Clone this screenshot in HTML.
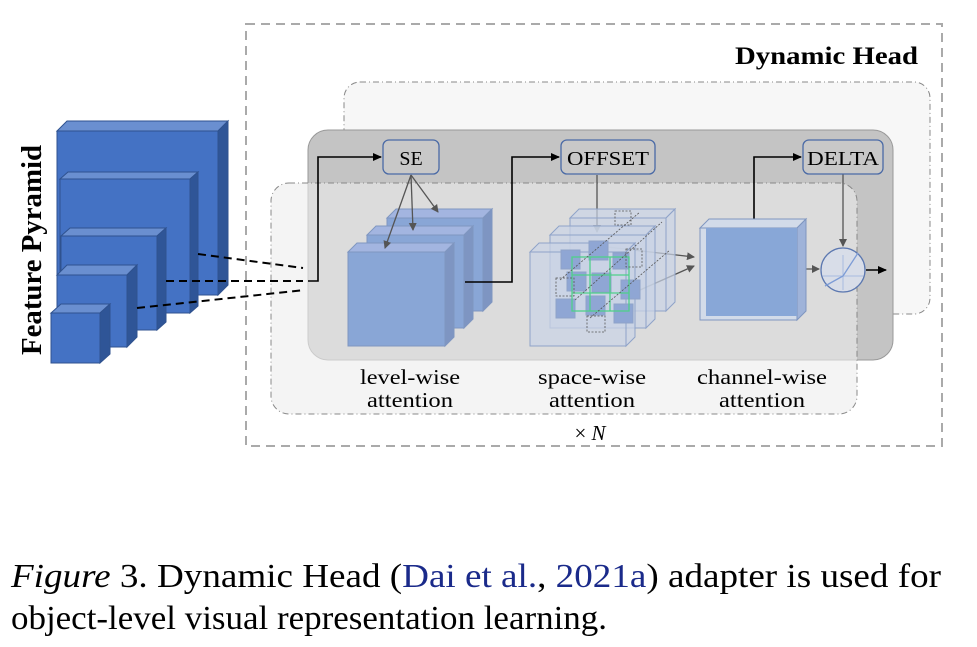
<!DOCTYPE html>
<html><head><meta charset="utf-8"><style>
html,body{margin:0;padding:0;background:#fff;}
svg{display:block;}
text{font-family:"Liberation Serif",serif;}
</style></head><body>
<svg width="977" height="647" viewBox="0 0 977 647" xmlns="http://www.w3.org/2000/svg">
<defs>
<marker id="ah" markerWidth="8" markerHeight="8" refX="7" refY="4" orient="auto" markerUnits="userSpaceOnUse"><path d="M0,0 L8,4 L0,8 z" fill="#555"/></marker>
<marker id="ahb" markerWidth="9" markerHeight="8" refX="8" refY="4" orient="auto" markerUnits="userSpaceOnUse"><path d="M0,0 L9,4 L0,8 z" fill="#000"/></marker>
</defs>
<rect x="246" y="24" width="696" height="422" fill="none" stroke="#aaa" stroke-width="2" stroke-dasharray="9,6"/>
<text x="918" y="64" text-anchor="end" font-size="25" font-weight="bold" textLength="183" lengthAdjust="spacingAndGlyphs">Dynamic Head</text>
<rect x="344" y="82" width="586" height="232" rx="16" fill="#f7f7f7" stroke="#888" stroke-width="1" stroke-dasharray="6,3,1,3"/>
<rect x="308" y="130" width="585" height="230" rx="20" fill="#c4c4c4" stroke="#999" stroke-width="1"/>
<rect x="271" y="183" width="586" height="231" rx="18" fill="#ececec" fill-opacity="0.6" stroke="#888" stroke-width="1" stroke-dasharray="6,3,1,3"/>

<g stroke="#2f528f" stroke-width="1">
<g><polygon points="57,131 67,121 228,121 218,131" fill="#6a8fd0"/><polygon points="218,131 228,121 228,285 218,295" fill="#2f5597"/><rect x="57" y="131" width="161" height="164" fill="#4472c4"/></g>
<g><polygon points="60,179 68,172 198,172 190,179" fill="#6a8fd0"/><polygon points="190,179 198,172 198,306 190,313" fill="#2f5597"/><rect x="60" y="179" width="130" height="134" fill="#4472c4"/></g>
<g><polygon points="61,236 70,228 166,228 157,236" fill="#6a8fd0"/><polygon points="157,236 166,228 166,322 157,330" fill="#2f5597"/><rect x="61" y="236" width="96" height="94" fill="#4472c4"/></g>
<g><polygon points="57,275 67,265 137,265 127,275" fill="#6a8fd0"/><polygon points="127,275 137,265 137,337 127,347" fill="#2f5597"/><rect x="57" y="275" width="70" height="72" fill="#4472c4"/></g>
<g><polygon points="51,313 61,304 110,304 100,313" fill="#6a8fd0"/><polygon points="100,313 110,304 110,354 100,363" fill="#2f5597"/><rect x="51" y="313" width="49" height="50" fill="#4472c4"/></g>
</g>
<text transform="translate(41,250) rotate(-90)" text-anchor="middle" font-size="29" font-weight="bold" textLength="210" lengthAdjust="spacingAndGlyphs">Feature Pyramid</text>
<g stroke="#000" stroke-width="2" stroke-dasharray="8,5" fill="none">
<line x1="198" y1="254" x2="303" y2="268"/>
<line x1="166" y1="281" x2="303" y2="281"/>
<line x1="137" y1="308" x2="305" y2="290"/>
</g>

<g stroke="#7f96c0" stroke-width="1">
<polygon points="387,218 396,209 492,209 483,218" fill="#a3b5e0"/><polygon points="483,218 492,209 492,302 483,311" fill="#7e95c2"/><rect x="387" y="218" width="96" height="93" fill="#89a6d6"/>
<polygon points="367,235 376,226 473,226 464,235" fill="#a3b5e0"/><polygon points="464,235 473,226 473,319 464,328" fill="#7e95c2"/><rect x="367" y="235" width="97" height="93" fill="#89a6d6"/>
<polygon points="348,252 357,243 454,243 445,252" fill="#a3b5e0"/><polygon points="445,252 454,243 454,337 445,346" fill="#7e95c2"/><rect x="348" y="252" width="97" height="94" fill="#89a6d6"/>
</g>
<polyline points="308,281 318,281 318,157 381,157" fill="none" stroke="#000" stroke-width="1.6" marker-end="url(#ahb)"/>
<polyline points="465,282 512,282 512,157 559,157" fill="none" stroke="#000" stroke-width="1.6" marker-end="url(#ahb)"/>
<polyline points="754,220 754,157 801,157" fill="none" stroke="#000" stroke-width="1.6" marker-end="url(#ahb)"/>
<g stroke="#555" stroke-width="1.3" fill="none">
<line x1="411" y1="175" x2="385" y2="248" marker-end="url(#ah)"/>
<line x1="411" y1="175" x2="413" y2="230" marker-end="url(#ah)"/>
<line x1="411" y1="175" x2="438" y2="212" marker-end="url(#ah)"/>
<line x1="597" y1="175" x2="597" y2="232" marker-end="url(#ah)"/>
<line x1="607" y1="247" x2="694" y2="257" marker-end="url(#ah)"/>
<line x1="640" y1="290" x2="694" y2="266" marker-end="url(#ah)"/>
<line x1="802" y1="269" x2="819" y2="269" marker-end="url(#ah)"/>
<line x1="843" y1="174" x2="843" y2="246" marker-end="url(#ah)"/>
</g>
<line x1="866" y1="270" x2="886" y2="270" stroke="#000" stroke-width="1.6" marker-end="url(#ahb)"/>

<g stroke="#4a6aa6" stroke-width="1.3" fill="#c8c8c8">
<rect x="383" y="140" width="56" height="34" rx="6"/>
<rect x="561" y="140" width="94" height="34" rx="6"/>
<rect x="803" y="140" width="80" height="34" rx="6"/>
</g>
<g font-size="20" text-anchor="middle">
<text x="411" y="165">SE</text>
<text x="608" y="165" textLength="82" lengthAdjust="spacingAndGlyphs">OFFSET</text>
<text x="843" y="165" textLength="72" lengthAdjust="spacingAndGlyphs">DELTA</text>
</g>

<g stroke="#8fa3c9" stroke-width="1">
<g fill="#c9d3e6" fill-opacity="0.7">
<polygon points="570,218 579,209 675,209 666,218"/><polygon points="666,218 675,209 675,302 666,311"/><rect x="570" y="218" width="96" height="93"/>
<polygon points="550,235 559,226 655,226 646,235"/><polygon points="646,235 655,226 655,319 646,328"/><rect x="550" y="235" width="96" height="93"/>
<polygon points="530,252 539,243 635,243 626,252"/><polygon points="626,252 635,243 635,337 626,346"/><rect x="530" y="252" width="96" height="94"/>
</g>
<g fill="#8fa6d4">
<rect x="561" y="250" width="19" height="19"/><rect x="589" y="241" width="19" height="19"/><rect x="613" y="253" width="16" height="16"/>
<rect x="567" y="272" width="19" height="19"/><rect x="592" y="273" width="19" height="19"/><rect x="621" y="280" width="19" height="19"/>
<rect x="556" y="299" width="19" height="19"/><rect x="586" y="296" width="19" height="19"/><rect x="614" y="304" width="19" height="19"/>
</g>
</g>
<rect x="572" y="257" width="57" height="54" fill="none" stroke="#4fd08a" stroke-width="1.3"/>
<line x1="590" y1="257" x2="590" y2="311" stroke="#4fd08a" stroke-width="1.3"/>
<line x1="610" y1="257" x2="610" y2="311" stroke="#4fd08a" stroke-width="1.3"/>
<line x1="572" y1="275" x2="629" y2="275" stroke="#4fd08a" stroke-width="1.3"/>
<line x1="572" y1="293" x2="629" y2="293" stroke="#4fd08a" stroke-width="1.3"/>
<g stroke="#555" stroke-width="0.8" fill="none" stroke-dasharray="2,1.5">
<rect x="556" y="278" width="18" height="18"/><rect x="626" y="249" width="16" height="18"/><rect x="587" y="316" width="18" height="16"/><rect x="615" y="211" width="16" height="14"/>
<line x1="560" y1="280" x2="640" y2="212"/><line x1="575" y1="300" x2="662" y2="222"/><line x1="590" y1="318" x2="670" y2="250"/>
</g>

<g stroke="#7f96c0" stroke-width="1">
<polygon points="700,228 709,219 806,219 797,228" fill="#d2dbe9"/>
<polygon points="797,228 806,219 806,311 797,320" fill="#9fb3d9"/>
<rect x="700" y="228" width="97" height="92" fill="#d2dbe9"/>
<rect x="706" y="228" width="91" height="88" fill="#88a7d7" stroke="none"/>
</g>
<circle cx="843" cy="270" r="22" fill="#d8dde8" stroke="#5c78b0" stroke-width="1.3"/>
<line x1="823" y1="276" x2="863" y2="276" stroke="#a8bce0" stroke-width="1"/>
<line x1="843" y1="255" x2="843" y2="290" stroke="#a8bce0" stroke-width="1"/>
<polyline points="825,286 843,276 858,253" fill="none" stroke="#7d9cd6" stroke-width="1.3"/>

<g font-size="21" text-anchor="middle">
<text x="410" y="384" textLength="100" lengthAdjust="spacingAndGlyphs">level-wise</text><text x="410" y="407" textLength="86" lengthAdjust="spacingAndGlyphs">attention</text>
<text x="592" y="384" textLength="108" lengthAdjust="spacingAndGlyphs">space-wise</text><text x="592" y="407" textLength="86" lengthAdjust="spacingAndGlyphs">attention</text>
<text x="762" y="384" textLength="130" lengthAdjust="spacingAndGlyphs">channel-wise</text><text x="762" y="407" textLength="86" lengthAdjust="spacingAndGlyphs">attention</text>
<text x="590" y="440">× <tspan font-style="italic">N</tspan></text>
</g>

<text x="11" y="587" font-size="34" textLength="930" lengthAdjust="spacingAndGlyphs"><tspan font-style="italic">Figure</tspan> 3. Dynamic Head (<tspan fill="#1a2a8a">Dai et al.</tspan>, <tspan fill="#1a2a8a">2021a</tspan>) adapter is used for</text>
<text x="11" y="629" font-size="34" textLength="596" lengthAdjust="spacingAndGlyphs">object-level visual representation learning.</text>
</svg>
</body></html>
